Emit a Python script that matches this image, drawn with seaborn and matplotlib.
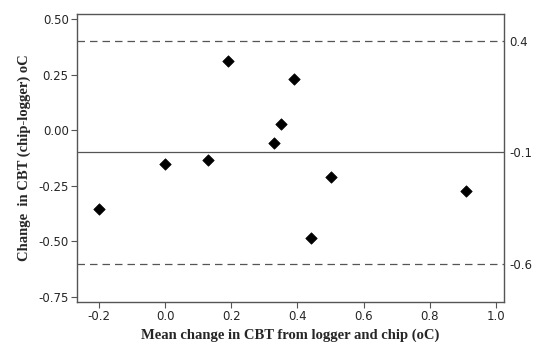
import numpy as np
import pandas as pd
import matplotlib
matplotlib.use('Agg')
import matplotlib.pyplot as plt
import seaborn as sns

# Bland-Altman data
mean_change = [-0.20, 0.00, 0.13, 0.19, 0.33, 0.35, 0.39, 0.44, 0.50, 0.91]
diff_change = [-0.354, -0.15, -0.132, 0.31, -0.058, 0.027, 0.231, -0.483, -0.212, -0.272]

# reference lines: upper limit, mean difference, lower limit
upper_loa = 0.4
mean_diff = -0.1
lower_loa = -0.6
ref_labels = ['0.4', '-0.1', '-0.6']

x_ticks = [-0.2, 0.0, 0.2, 0.4, 0.6, 0.8, 1.0]
y_ticks = [0.50, 0.25, 0.00, -0.25, -0.50, -0.75]

df = pd.DataFrame({'mean': mean_change, 'diff': diff_change})

sns.set_style('white')
plt.rcParams['font.family'] = ['DejaVu Sans']

fig = plt.figure(figsize=(5.39, 3.42), dpi=100)
ax = fig.add_axes([0.1429, 0.117, 0.7921, 0.842])

sns.scatterplot(data=df, x='mean', y='diff', marker='D', color='black',
                s=34, edgecolor='black', linewidth=0.5, ax=ax, zorder=3)

ax.axhline(upper_loa, color='#555555', linestyle=(0, (6, 4)), linewidth=0.9)
ax.axhline(mean_diff, color='#555555', linestyle='-', linewidth=0.9)
ax.axhline(lower_loa, color='#555555', linestyle=(0, (6, 4)), linewidth=0.9)

ax.set_xlim(-0.266, 1.024)
ax.set_ylim(-0.7725, 0.5225)
ax.set_xticks(x_ticks)
ax.set_xticklabels(['%.1f' % v for v in x_ticks])
ax.set_yticks(y_ticks)
ax.set_yticklabels(['%.2f' % v for v in y_ticks])

for sp in ax.spines.values():
    sp.set_color('#555555')
    sp.set_linewidth(1.0)

ax.tick_params(axis='both', which='both', direction='out', length=4, width=0.8,
               color='#555555', labelsize=8.5, pad=2, bottom=True, left=True)

# right-hand labels for the reference lines
ax2 = ax.twinx()
ax2.set_ylim(ax.get_ylim())
ax2.set_yticks([upper_loa, mean_diff, lower_loa])
ax2.set_yticklabels(ref_labels)
ax2.tick_params(axis='y', direction='out', length=0, labelsize=8.5, pad=4, right=True)
for sp in ax2.spines.values():
    sp.set_visible(False)

ax.set_xlabel('Mean change in CBT from logger and chip (oC)', family='Liberation Serif',
              fontweight='bold', fontsize=10.5, labelpad=4)
ax.set_ylabel('Change  in CBT (chip-logger) oC', family='Liberation Serif',
              fontweight='bold', fontsize=10.5, labelpad=5)

fig.savefig('out.png', dpi=100)
